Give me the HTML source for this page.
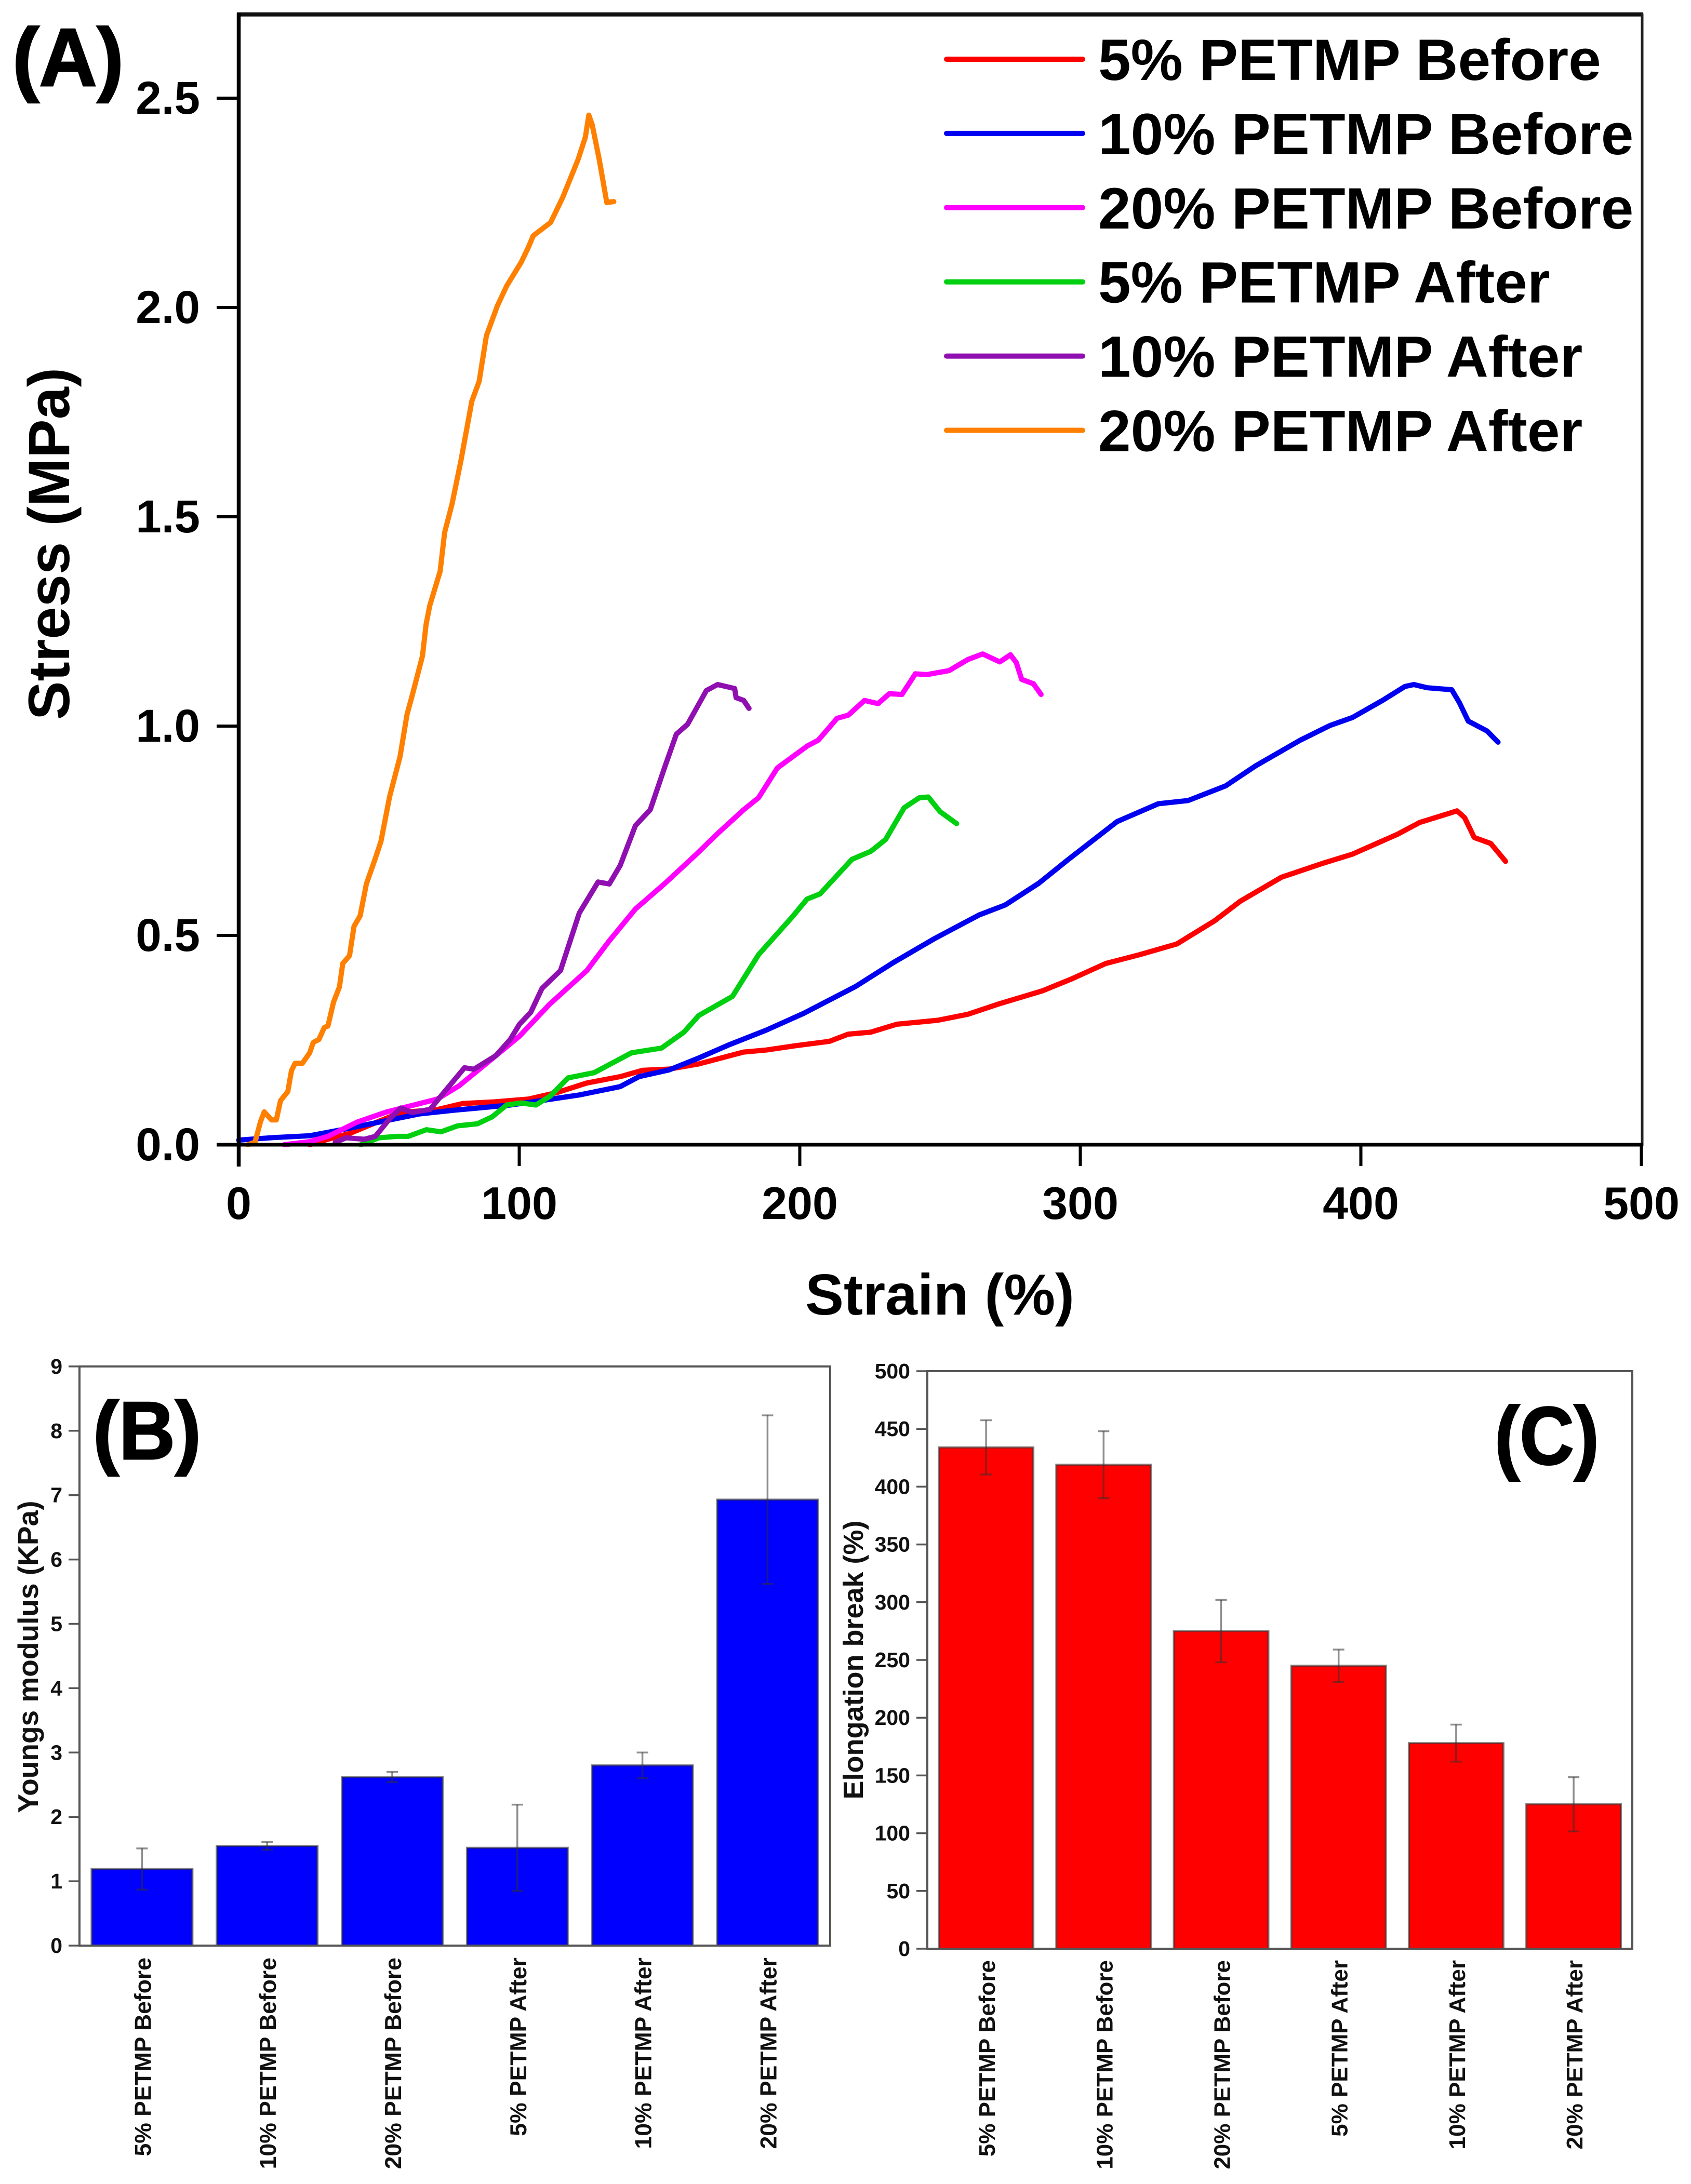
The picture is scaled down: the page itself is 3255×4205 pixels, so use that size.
<!DOCTYPE html>
<html lang="en">
<head>
<meta charset="utf-8">
<title>PETMP mechanical properties</title>
<style>
html,body{margin:0;padding:0;background:#fff;}
svg{display:block;}
text{font-family:"Liberation Sans",Arial,sans-serif;font-weight:bold;fill:#000;}
</style>
</head>
<body>
<svg id="figure" xmlns="http://www.w3.org/2000/svg" width="3255" height="4205" viewBox="0 0 3255 4205">
  <rect x="0" y="0" width="3255" height="4205" fill="#fff"/>
  <g id="panelA">
    <text x="24" y="165" font-size="158" textLength="214" lengthAdjust="spacingAndGlyphs" stroke="#000" stroke-width="3">(A)</text>
    <text transform="translate(133,1047) rotate(-90)" text-anchor="middle" font-size="112">Stress (MPa)</text>
    <text x="1809" y="2531" text-anchor="middle" font-size="111">Strain (%)</text>
  </g>
  <g id="panelB">
    <text x="179" y="2809" font-size="158" textLength="208" lengthAdjust="spacingAndGlyphs" stroke="#000" stroke-width="3">(B)</text>
    <text transform="translate(73,3190) rotate(-90)" text-anchor="middle" font-size="55" style="fill:#111">Youngs modulus (KPa)</text>
  </g>
  <g id="panelC">
    <text x="2877" y="2819" font-size="158" textLength="201" lengthAdjust="spacingAndGlyphs" stroke="#000" stroke-width="3">(C)</text>
    <text transform="translate(1661,3196) rotate(-90)" text-anchor="middle" font-size="54" style="fill:#111">Elongation break (%)</text>
  </g>
</svg>
<script>
// ---- Panel A data (strain %, stress MPa) ----
const strainTicks = ['0','100','200','300','400','500'];
const stressTicks = ['0.0','0.5','1.0','1.5','2.0','2.5'];

const strain5Before = [25.3,31.8,39.6,50,57.8,70.8,79.9,90.3,103.3,113.4,124.1,136,144,153.4,164,180,188,198.6,210.6,217.3,225.3,234.6,249.2,259.9,270.5,286.5,297.2,309.1,321.1,334.4,347.8,357.1,371.7,386.4,397,413,421,434.3,437,440.4,446.3,451.6];
const stress5Before = [0,0.013,0.027,0.056,0.077,0.084,0.0985,0.102,0.109,0.1246,0.1474,0.1626,0.1778,0.1806,0.193,0.2214,0.2262,0.2366,0.247,0.2641,0.2689,0.2879,0.2973,0.3116,0.3353,0.3676,0.3969,0.433,0.4539,0.4795,0.5346,0.582,0.639,0.6722,0.694,0.7415,0.7699,0.7975,0.7813,0.7339,0.7196,0.6769];

const strain10Before = [0,12.3,25.3,38.3,51.3,64.3,77.3,96.8,105.4,121.4,136,142.7,153.4,164,174.7,188,201.3,219.9,233.3,247.9,263.9,273.2,285.2,295.8,313.1,327.8,338.4,351.8,362.4,378.4,389,397,407.7,415.7,418.9,423.7,432.4,435.1,438.3,445,448.9];
const stress10Before = [0.011,0.017,0.0215,0.0379,0.0557,0.0735,0.0827,0.0948,0.103,0.1189,0.1388,0.1626,0.1787,0.2072,0.2385,0.2736,0.3135,0.378,0.4349,0.4919,0.5488,0.5726,0.6247,0.6817,0.7718,0.8145,0.8221,0.8572,0.9047,0.9664,1.0015,1.0205,1.0613,1.0945,1.0992,1.0916,1.0869,1.0565,1.0119,0.9882,0.9616];

const strain20Before = [16.2,25.3,31.8,42.2,52.6,60.4,70.8,78.6,87.7,96.8,100.1,110.8,124.1,132.1,141.4,152,162.7,170.7,180,185.3,192,202.6,206.6,213.3,217.3,223.1,227.9,231.9,236.4,241.2,245.2,253.2,259.9,265.2,271.3,275.1,277.2,279.1,283.3,286];
const stress20Before = [0,0.0073,0.02,0.054,0.078,0.0913,0.109,0.141,0.191,0.241,0.2594,0.3353,0.416,0.4871,0.563,0.6247,0.6912,0.7433,0.8003,0.8288,0.8999,0.9521,0.9664,1.0186,1.0262,1.0613,1.0537,1.0774,1.0755,1.1249,1.123,1.1325,1.159,1.1723,1.1533,1.1704,1.1514,1.1116,1.1011,1.0755];

const strain5After = [43.5,50,56.5,60.4,66.9,72.1,78,85.1,90.3,95.5,100.7,105.9,111.1,117.4,126.7,140,150.7,158.7,164,176,185.3,197.3,202.6,207.2,218.6,225.3,230.6,237.2,242.6,245.8,250,255.9];
const stress5After = [0,0.0165,0.02,0.02,0.0358,0.0308,0.045,0.05,0.0664,0.0948,0.0998,0.0948,0.1162,0.1597,0.1721,0.2195,0.2309,0.2689,0.3087,0.3543,0.4539,0.5441,0.5868,0.5991,0.6817,0.7007,0.7291,0.805,0.8288,0.8307,0.7956,0.767];

const strain10After = [34.4,38.3,44.8,48.7,53.9,57.8,61.7,68.2,73.4,80.5,83.8,91.6,96.8,100.1,104.1,108.1,114.7,121.4,128.1,132.1,136,141.4,146.7,152,156,160,166.7,170.7,176.8,177.3,180,181.9];
const stress10After = [0.0057,0.0165,0.013,0.02,0.0628,0.0877,0.077,0.0842,0.127,0.1839,0.1803,0.2124,0.2515,0.2878,0.3163,0.3732,0.416,0.5536,0.6276,0.6228,0.6674,0.7623,0.8003,0.9047,0.9806,1.0043,1.085,1.0992,1.0897,1.068,1.0613,1.0423];

const strain20After = [3.2,5.8,7.8,9.1,11.7,13.4,14.9,17.5,18.8,20.1,22.7,25.3,26.6,28.6,30.5,31.8,33.8,35.9,37.1,39.5,41.1,43.3,45.5,48.8,50.7,53.8,57.5,60,61.8,65.5,66.8,68.1,71.8,73.4,76,79.2,81.8,83.1,85.7,88.3,92.2,95.5,100.7,103.2,105,111.2,115.5,121,123.6,124.8,126,128.5,131.2,133.7];
const stress20After = [0,0.0057,0.0557,0.0785,0.0593,0.0593,0.1055,0.1269,0.1767,0.1945,0.1945,0.2195,0.2444,0.2515,0.28,0.2835,0.3405,0.377,0.433,0.4516,0.5215,0.547,0.6228,0.686,0.7246,0.8317,0.9268,1.028,1.072,1.1675,1.2432,1.2877,1.3697,1.4628,1.5293,1.6337,1.7286,1.776,1.8235,1.9326,2.0038,2.0512,2.1082,2.1431,2.1715,2.2032,2.263,2.354,2.4077,2.4594,2.4367,2.354,2.2506,2.253];

// ---- Panel B / C data ----
const categories = ['5% PETMP Before','10% PETMP Before','20% PETMP Before','5% PETMP After','10% PETMP After','20% PETMP After'];
const modulusValues = [1.19,1.55,2.62,1.52,2.8,6.93];
const modulusErrors = [0.32,0.06,0.08,0.67,0.2,1.31];
const modulusTicks = ['0','1','2','3','4','5','6','7','8','9'];
const elongationValues = [434,419,275,245,178,125];
const elongationErrors = [23.5,29,27,14,16,23.5];
const elongationTicks = ['0','50','100','150','200','250','300','350','400','450','500'];

const NS = 'http://www.w3.org/2000/svg';

// axis functions
function xA(v){ return 459.5 + v * 5.4; }
function yA(v){ return 2204 - v * 806; }
function yB(v){ return 3746 - v * 123.9; }
function yC(v){ return 3752 - v * 2.224; }
function bandB(i){ return 153 + i * 240.8; }
function bandC(i){ return 1785 + i * 226.2; }

function make(tag, parent, attrs){
  const el = document.createElementNS(NS, tag);
  for (const k in attrs) el.setAttribute(k, attrs[k]);
  parent.appendChild(el);
  return el;
}
function named(el, name){
  
  
  return el;
}
function seg(parent, name, x1, y1, x2, y2, stroke, width, cap){
  const el = make('line', parent, {x1:x1, y1:y1, x2:x2, y2:y2, stroke:stroke, 'stroke-width':width, 'stroke-linecap':cap || 'butt'});
  return named(el, name);
}
function label(parent, name, x, y, txt, size, anchor, fill, rot){
  const el = make('text', parent, {'font-size':size, 'text-anchor':anchor});
  if (rot) el.setAttribute('transform', 'translate(' + x + ',' + y + ') rotate(-90)');
  else { el.setAttribute('x', x); el.setAttribute('y', y); }
  if (fill) el.setAttribute('style', 'fill:' + fill);
  el.textContent = txt;
  return named(el, name);
}

// ---- Panel A ----
const gA = document.getElementById('panelA');
const seriesList = [
  ['5-petmp-before', '5% PETMP Before', '#ff0000', strain5Before, stress5Before],
  ['10-petmp-before', '10% PETMP Before', '#0000f0', strain10Before, stress10Before],
  ['20-petmp-before', '20% PETMP Before', '#ff00ff', strain20Before, stress20Before],
  ['5-petmp-after', '5% PETMP After', '#00d010', strain5After, stress5After],
  ['10-petmp-after', '10% PETMP After', '#8f0fb0', strain10After, stress10After],
  ['20-petmp-after', '20% PETMP After', '#ff8000', strain20After, stress20After]
];

seriesList.forEach(function(s){
  const pts = s[3].map(function(v, i){ return xA(v).toFixed(1) + ',' + yA(s[4][i]).toFixed(1); }).join(' ');
  const line = make('polyline', gA, {points:pts, fill:'none', stroke:s[2], 'stroke-width':10, 'stroke-linejoin':'round', 'stroke-linecap':'round'});
  named(line, 'series-' + s[0]);
});

seg(gA, 'plot-border-top', 456, yA(2.7) , 3163, yA(2.7), '#111', 8);
seg(gA, 'plot-border-right', 3161, 26, 3161, 2207, '#222', 5);
seg(gA, 'x-axis-line', 417, yA(0), 3163, yA(0), '#000', 7);
seg(gA, 'y-axis-line', 459.5, 25, 459.5, 2246, '#000', 7.5);

strainTicks.forEach(function(t){
  const v = parseFloat(t);
  seg(gA, 'x-tick-' + t, xA(v), yA(0), xA(v), 2245, '#000', 6);
  label(gA, 'x-tick-label-' + t, xA(v), 2347, t, 88, 'middle');
});
stressTicks.forEach(function(t){
  const v = parseFloat(t);
  seg(gA, 'y-tick-' + t, 417, yA(v), 459.5, yA(v), '#000', 6);
  label(gA, 'y-tick-label-' + t, 385, yA(v) + 30, t, 89, 'end');
});

seriesList.forEach(function(s, i){
  const ly = 114 + i * 142.9;
  seg(gA, 'legend-swatch-' + s[0], 1822, ly, 2084, ly, s[2], 10, 'round');
  label(gA, 'legend-label-' + s[0], 2114, ly + 40, s[1], 112.6, 'start');
});

// ---- Bar panel helper ----
function barPanel(g, cfg){
  cfg.values.forEach(function(v, i){
    const cx = cfg.band(i) + cfg.step / 2;
    const x0 = cx - cfg.barW / 2;
    const bar = make('rect', g, {x:x0, y:cfg.y(v), width:cfg.barW, height:cfg.y(0) - cfg.y(v), fill:cfg.fill, stroke:'rgba(50,50,50,0.6)', 'stroke-width':4});
    named(bar, 'bar-' + cfg.slug + '-' + (i + 1));
    const e = cfg.errors[i];
    const hi = cfg.y(v + e), lo = cfg.y(v - e);
    const ec = 'rgba(50,50,50,0.55)';
    seg(g, 'error-stem-' + (i + 1), cx, hi, cx, lo, ec, 3.5);
    seg(g, 'error-cap-top-' + (i + 1), cx - 11, hi, cx + 11, hi, ec, 3.5);
    seg(g, 'error-cap-bottom-' + (i + 1), cx - 11, lo, cx + 11, lo, ec, 3.5);
    label(g, 'category-label-' + (i + 1), cx + 17, cfg.catY, categories[i], cfg.catSize, 'end', '#111', true);
  });
  const frame = make('rect', g, {x:cfg.left, y:cfg.y(cfg.max), width:cfg.right - cfg.left, height:cfg.y(0) - cfg.y(cfg.max), fill:'none', stroke:'#555', 'stroke-width':4});
  named(frame, 'plot-frame');
  cfg.ticks.forEach(function(t){
    const v = parseFloat(t);
    seg(g, 'tick-' + t, cfg.left - 21, cfg.y(v), cfg.left, cfg.y(v), '#555', 3.5);
    label(g, 'tick-label-' + t, cfg.left - 33, cfg.y(v) + 14, t, 41, 'end', '#111');
  });
}

barPanel(document.getElementById('panelB'), {
  slug:'modulus', values:modulusValues, errors:modulusErrors, ticks:modulusTicks, y:yB, band:bandB,
  step:240.8, barW:194, fill:'#0000ff', left:153, right:1598, max:9, catY:3769, catSize:44.5
});
barPanel(document.getElementById('panelC'), {
  slug:'elongation', values:elongationValues, errors:elongationErrors, ticks:elongationTicks, y:yC, band:bandC,
  step:226.2, barW:182, fill:'#ff0000', left:1785, right:3142, max:500, catY:3774, catSize:44
});
</script>
</body>
</html>
